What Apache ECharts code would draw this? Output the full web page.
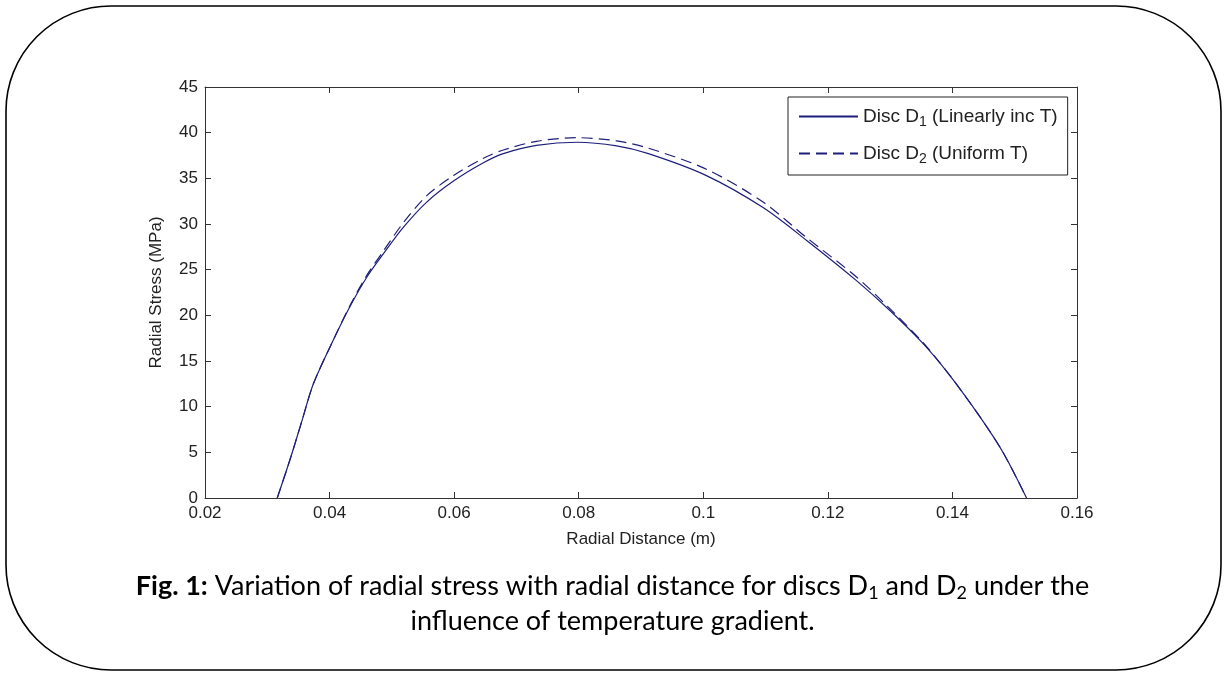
<!DOCTYPE html>
<html>
<head>
<meta charset="utf-8">
<script src="https://cdn.jsdelivr.net/npm/echarts@6/dist/echarts.min.js"></script>
<style>
html,body{margin:0;padding:0;background:#fff;}
#chart{width:1225px;height:673px;}
</style>
</head>
<body>
<div id="chart"></div>
<script>
// Data
var radialDistance = [0.0316, 0.0336, 0.0355, 0.0374, 0.0406, 0.0433, 0.0460, 0.0486, 0.0518, 0.0556, 0.0599, 0.0647, 0.0679, 0.0732, 0.0797, 0.0861, 0.0912, 0.1005, 0.1096, 0.1166, 0.1246, 0.1300, 0.1353, 0.1396, 0.1444, 0.1482, 0.1519];
var stressD1 = [0, 4.1, 8.3, 12.5, 17.3, 21.0, 24.2, 26.7, 29.6, 32.4, 34.7, 36.7, 37.7, 38.6, 38.95, 38.55, 37.7, 35.3, 31.8, 28.2, 23.8, 20.5, 16.9, 13.4, 8.9, 4.9, 0];
var stressD2 = [0, 4.1, 8.3, 12.5, 17.3, 21.1, 24.4, 27.0, 30.1, 33.1, 35.3, 37.2, 38.1, 39.05, 39.45, 39.1, 38.3, 36.0, 32.4, 28.5, 24.2, 20.7, 17.0, 13.4, 8.9, 4.9, 0];
var xTickLabels = ['0.02', '0.04', '0.06', '0.08', '0.1', '0.12', '0.14', '0.16'];
var yTickLabels = ['0', '5', '10', '15', '20', '25', '30', '35', '40', '45'];
var seriesNames = ['Disc D1 (Linearly inc T)', 'Disc D2 (Uniform T)'];
var legendParts = [['Disc D', '1', ' (Linearly inc T)'], ['Disc D', '2', ' (Uniform T)']];
var xTitle = 'Radial Distance (m)';
var yTitle = 'Radial Stress (MPa)';
var captionBold = 'Fig. 1:';
var captionLine1 = [' Variation of radial stress with radial distance for discs D', '1', ' and D', '2', ' under the'];
var captionLine2 = 'influence of temperature gradient.';

function pairs(xs, ys) { return xs.map(function (x, i) { return [x, ys[i]]; }); }

var lineColor = '#1e1e7c';
var axisColor = '#333333';
var sans = "'Liberation Sans', Arial, sans-serif";

var chart = echarts.init(document.getElementById('chart'), null, { renderer: 'canvas' });

var xCommon = {
  type: 'value', min: 0.02, max: 0.16, interval: 0.02,
  axisLine: { show: true, onZero: false, lineStyle: { color: axisColor, width: 1 } },
  axisTick: { show: true, inside: true, length: 6, lineStyle: { color: axisColor } },
  splitLine: { show: false }
};
var yCommon = {
  type: 'value', min: 0, max: 45, interval: 5,
  axisLine: { show: true, onZero: false, lineStyle: { color: axisColor, width: 1 } },
  axisTick: { show: true, inside: true, length: 6, lineStyle: { color: axisColor } },
  splitLine: { show: false }
};

var captionText = '{b|' + captionBold + '}{n|' + captionLine1[0] + '}{s|' + captionLine1[1] + '}{n|' + captionLine1[2] + '}{s|' + captionLine1[3] + '}{n|' + captionLine1[4] + '}\n{n|' + captionLine2 + '}';

var option = {
  animation: false,
  backgroundColor: '#ffffff',
  grid: { left: 205, right: 148, top: 87, bottom: 175, containLabel: false },
  title: {
    text: captionText,
    left: 'center', top: 569, padding: 0,
    textStyle: {
      fontWeight: 'normal',
      rich: {
        b: { fontFamily: 'Lato', fontWeight: 'bold', fontSize: 27, lineHeight: 35, color: '#000' },
        n: { fontFamily: 'Lato', fontWeight: 'normal', fontSize: 27, lineHeight: 35, color: '#000' },
        s: { fontFamily: 'Lato', fontWeight: 'normal', fontSize: 18, lineHeight: 18, padding: [13, 0, 0, 0], color: '#000' }
      }
    }
  },
  legend: {
    orient: 'vertical', left: 788, top: 97,
    padding: [7, 10, 9, 10], itemGap: 12,
    itemWidth: 59, itemHeight: 14,
    backgroundColor: '#fff', borderColor: '#222', borderWidth: 1, borderRadius: 0,
    itemStyle: { color: 'transparent', borderColor: 'transparent', borderWidth: 0, opacity: 0 },
    data: seriesNames,
    formatter: function (name) {
      var p = legendParts[seriesNames.indexOf(name)];
      return '{a|' + p[0] + '}{s|' + p[1] + '}{a|' + p[2] + '}';
    },
    textStyle: {
      rich: {
        a: { fontFamily: sans, fontSize: 19, lineHeight: 23, color: '#222' },
        s: { fontFamily: sans, fontSize: 14, lineHeight: 14, padding: [11, 0, 0, 0], color: '#222' }
      }
    }
  },
  xAxis: [
    Object.assign({}, xCommon, {
      position: 'bottom',
      name: xTitle, nameLocation: 'middle', nameGap: 33,
      nameTextStyle: { fontFamily: sans, fontSize: 17, color: '#222' },
      axisLabel: {
        show: true, margin: 7, fontFamily: sans, fontSize: 17, color: '#222',
        formatter: function (v) { return xTickLabels[Math.round((v - 0.02) / 0.02)]; }
      }
    }),
    Object.assign({}, xCommon, { position: 'top', axisLabel: { show: false } })
  ],
  yAxis: [
    Object.assign({}, yCommon, {
      position: 'left',
      name: yTitle, nameLocation: 'middle', nameGap: 40, nameRotate: 90,
      nameTextStyle: { fontFamily: sans, fontSize: 17, color: '#222' },
      axisLabel: {
        show: true, margin: 7, fontFamily: sans, fontSize: 17, color: '#222',
        formatter: function (v) { return yTickLabels[Math.round(v / 5)]; }
      }
    }),
    Object.assign({}, yCommon, { position: 'right', axisLabel: { show: false } })
  ],
  series: [
    {
      name: seriesNames[0], type: 'line', xAxisIndex: 0, yAxisIndex: 0,
      data: pairs(radialDistance, stressD1),
      showSymbol: false, symbol: 'none', smooth: 0.3,
      lineStyle: { color: lineColor, width: 1.2, type: 'solid' },
      itemStyle: { color: lineColor }
    },
    {
      name: seriesNames[1], type: 'line', xAxisIndex: 0, yAxisIndex: 0,
      data: pairs(radialDistance, stressD2),
      showSymbol: false, symbol: 'none', smooth: 0.3,
      lineStyle: { color: lineColor, width: 1.2, type: [11, 6] },
      itemStyle: { color: lineColor }
    }
  ],
  graphic: [
    {
      type: 'rect', z: 100, silent: true,
      shape: { x: 6, y: 6, width: 1215, height: 664, r: 105 },
      style: { fill: 'none', stroke: '#000', lineWidth: 1.6 }
    },
    {
      type: 'rect', z: 90, silent: true,
      shape: { x: 360, y: 636, width: 520, height: 28 },
      style: { fill: '#fff', stroke: 'none' }
    }
  ]
};
chart.setOption(option);
</script>
</body>
</html>
